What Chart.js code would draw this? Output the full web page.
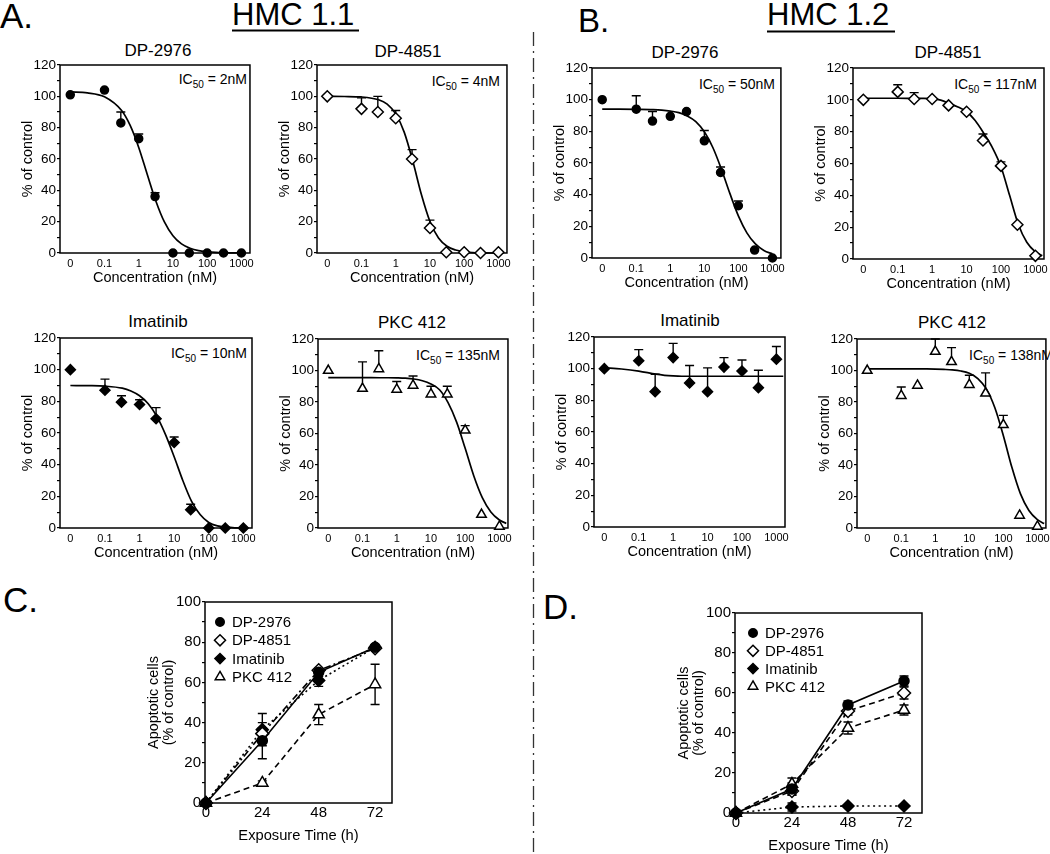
<!DOCTYPE html>
<html>
<head>
<meta charset="utf-8">
<script src="https://cdn.jsdelivr.net/npm/chart.js@4.4.0/dist/chart.umd.min.js"></script>
<style>
  html, body { margin: 0; padding: 0; background: #fff; }
  #page { position: relative; width: 1050px; height: 854px; overflow: hidden; }
  #page canvas { position: absolute; }
  #page svg { position: absolute; left: 0; top: 0; }
</style>
</head>
<body>
<div id="page">
<svg width="1050" height="854" font-family="Liberation Sans, Arial, sans-serif" fill="#000">
  <text x="0" y="28" font-size="35">A.</text>
  <text x="232" y="25" font-size="31">HMC 1.1</text>
  <line x1="232" y1="30.5" x2="359" y2="30.5" stroke="#000" stroke-width="2"/>
  <text x="578" y="32" font-size="33">B.</text>
  <text x="767" y="25" font-size="31">HMC 1.2</text>
  <line x1="767" y1="31.5" x2="895" y2="31.5" stroke="#000" stroke-width="2"/>
  <text x="3" y="612" font-size="35">C.</text>
  <text x="543" y="619" font-size="35">D.</text>
  <line x1="533.5" y1="32" x2="533.5" y2="854" stroke="#333" stroke-width="1.3" stroke-dasharray="14 5 2 5"/>

  <g font-size="17" text-anchor="middle">
    <text x="158" y="56">DP-2976</text>
    <text x="408" y="57">DP-4851</text>
    <text x="685" y="58">DP-2976</text>
    <text x="948" y="58">DP-4851</text>
    <text x="158" y="327">Imatinib</text>
    <text x="412" y="328">PKC 412</text>
    <text x="690" y="326">Imatinib</text>
    <text x="952" y="328">PKC 412</text>
  </g>
  <g font-size="14" text-anchor="end">
    <text x="247" y="84">IC<tspan font-size="10" dy="4">50</tspan><tspan dy="-4"> = 2nM</tspan></text>
    <text x="500" y="86">IC<tspan font-size="10" dy="4">50</tspan><tspan dy="-4"> = 4nM</tspan></text>
    <text x="775" y="89">IC<tspan font-size="10" dy="4">50</tspan><tspan dy="-4"> = 50nM</tspan></text>
    <text x="1037" y="89">IC<tspan font-size="10" dy="4">50</tspan><tspan dy="-4"> = 117nM</tspan></text>
    <text x="247" y="358">IC<tspan font-size="10" dy="4">50</tspan><tspan dy="-4"> = 10nM</tspan></text>
    <text x="500" y="360">IC<tspan font-size="10" dy="4">50</tspan><tspan dy="-4"> = 135nM</tspan></text>
    <text x="1053" y="360">IC<tspan font-size="10" dy="4">50</tspan><tspan dy="-4"> = 138nM</tspan></text>
  </g>
</svg>
</div>
<script>
Chart.defaults.font.family = '"Liberation Sans", Arial, sans-serif';
Chart.defaults.color = '#000';

// ── Dose-response data (A = HMC 1.1, B = HMC 1.2) ──────────────
// "0" is drawn one decade left of 0.1 nM
const DOSES = [0, 0.1, 0.3, 1, 3, 10, 30, 100, 300, 1000];
const DOSE_TICKS = [0, 0.1, 1, 10, 100, 1000];
const DOSE_TICK_LABELS = ['0', '0.1', '1', '10', '100', '1000'];
const PCT_TICKS = [0, 20, 40, 60, 80, 100, 120];

const A_DP2976     = [101, 104, 83, 73, 36, 0, 0, 0, 0, 0];
const A_DP2976_SEM = [null, null, 7, 3, 2.5, null, null, null, null, null];
const A_DP4851     = [100, 92, 90, 86, 60, 16, 0.5, 0.5, 0, 0.5];
const A_DP4851_SEM = [null, 7, 10, 5, 6, 5, null, null, null, null];
const A_IMATINIB     = [100, 87, 79.5, 78, 69, 54, 11.5, 0, 0, 0];
const A_IMATINIB_SEM = [null, 7, 4, 3, 7, 3.5, 3.5, null, null, null];
const A_PKC412     = [100, 88.5, 101, 88, 90.5, 85, 85, 62, 8.5, 1];
const A_PKC412_SEM = [null, 17, 11.5, 5, 6, 5, 5, 3, null, null];

const B_DP2976     = [100, 94, 86.5, 89.5, 92.5, 74, 54, 33, 5, 0];
const B_DP2976_SEM = [null, 8.5, 6, null, null, 6.5, 3.5, 3, null, null];
const B_DP4851     = [100, 105, 100.5, 100.5, 96.5, 92.5, 74.5, 58.5, 21.5, 2];
const B_DP4851_SEM = [null, 4.5, 4, null, null, null, 4, 2.5, null, null];
const B_IMATINIB     = [100, 105, 85.5, 107, 91, 85.5, 101, 98.5, 88, 106];
const B_IMATINIB_SEM = [null, 7, 11, 9, 11, 15, 6, 7, 11, 8];
const B_PKC412     = [100, 84, 90.5, 112, 105.5, 91, 85.5, 65.5, 8, 1];
const B_PKC412_SEM = [null, 5.5, null, 8, 9, 6, 13, 6, null, null];

// fitted curves at these log10(nM) positions
const FIT_LOG = [-2, -1.5, -1, -0.5, -0.25, 0, 0.25, 0.5, 0.75, 1, 1.25, 1.5, 1.75, 2, 2.25, 2.5, 2.75, 3, 3.2];
const A_DP2976_FIT   = [102.8, 102.2, 99.7, 90.9, 81.4, 67.4, 50.1, 33.2, 19.8, 11, 5.8, 3, 1.5, 0.8, 0.4, 0.2, 0.1, 0, null];
const A_DP4851_FIT   = [100, 99.9, 99.6, 97.8, 95, 88.8, 77, 58.5, 37.3, 20.1, 9.6, 4.3, 1.9, 0.8, 0.3, 0.1, 0, 0, null];
const A_IMATINIB_FIT = [90, 89.9, 89.6, 88.3, 86.5, 83.5, 78.5, 70.5, 59, 45, 30, 17, 8.5, 3.5, 1.3, 0.5, 0.1, 0, null];
const A_PKC412_FIT   = [95.5, 95.5, 95.5, 95.4, 95.4, 95.3, 95.1, 94.6, 93.5, 91.4, 87.8, 79.6, 67.2, 50.6, 33.2, 19.3, 10.2, 5.1, 2.9];
const B_DP2976_FIT   = [94, 94, 93.9, 93.7, 93.4, 92.8, 91.8, 89.7, 86.1, 79.7, 69.8, 56.2, 40.8, 26.6, 15.9, 8.9, 4.8, 2.6, null];
const B_DP4851_FIT   = [101, 101, 101, 100.9, 100.9, 100.8, 99.8, 97.8, 95.5, 92.5, 87, 79, 70, 58, 40, 22, 10.5, 4.5, 2];
const B_IMATINIB_FIT = [100.5, 99.8, 98.5, 96.5, 95.8, 95.4, 95.2, 95.2, 95.2, 95.2, 95.2, 95.2, 95.2, 95.2, 95.2, 95.2, 95.2, 95.2, 95.2];
const B_PKC412_FIT   = [101, 101, 101, 101, 101, 100.9, 100.7, 100.4, 99.7, 98.2, 94.9, 88.3, 76.3, 58.6, 38.5, 21.8, 11.1, 5.3, 2.8];

// ── Apoptosis time course (C = HMC 1.1, D = HMC 1.2) ───────────
const HOURS = [0, 24, 48, 72];
const APOP_TICKS = [0, 20, 40, 60, 80, 100];
const DRUGS = ['DP-2976', 'DP-4851', 'Imatinib', 'PKC 412'];

const C_DP2976   = [0, 31, 65, 77.5];   const C_DP2976_SEM   = [0, 9, 2, 1];
const C_DP4851   = [0, 34.5, 66, 77];   const C_DP4851_SEM   = [0, 3, 1, 1];
const C_IMATINIB = [0, 36.5, 61, 77.5]; const C_IMATINIB_SEM = [0, 8, 3, 1];
const C_PKC412   = [0, 10, 44, 59];     const C_PKC412_SEM   = [0, 1, 5, 10];

const D_DP2976   = [0, 12, 54, 66];     const D_DP2976_SEM   = [0, 3, 2, 2.5];
const D_DP4851   = [0, 11, 51, 60];     const D_DP4851_SEM   = [0, 2, 2, 3];
const D_IMATINIB = [0, 3, 3.5, 3.5];    const D_IMATINIB_SEM = [0, 2, 0.5, 0.5];
const D_PKC412   = [0, 14.5, 42.5, 51.5]; const D_PKC412_SEM = [0, 3, 3, 2.5];

// marker looks, one per drug
const MARK = {
  circle:   { style: 'circle',   r: 4,   fill: '#000' },
  diamondO: { style: 'rectRot',  r: 5.5, fill: '#fff' },
  diamondF: { style: 'rectRot',  r: 5,   fill: '#000' },
  triangle: { style: 'triangle', r: 5.5, fill: '#fff' }
};

const PAD_T = 12, PAD_R = 8;
const logPos = d => d === 0 ? -2 : Math.log10(d);
const tenSteps = max => s => { s.ticks = []; for (let v = 0; v <= max; v += 10) s.ticks.push({ value: v }); };

// ── Plugins ───────────────────────────────────────────────
const frame = {
  id: 'frame',
  beforeDatasetsDraw(chart) {
    const { ctx, chartArea: a } = chart;
    ctx.save();
    ctx.strokeStyle = '#000';
    ctx.lineWidth = 1.5;
    ctx.strokeRect(a.left, a.top, a.width, a.height);
    ctx.restore();
  }
};

const errorBars = {
  id: 'errorBars',
  beforeDatasetsDraw(chart) {
    const { ctx, scales: { y } } = chart;
    ctx.save();
    ctx.strokeStyle = '#000';
    ctx.lineWidth = 1.4;
    chart.data.datasets.forEach((ds, di) => {
      if (!ds.errors) return;
      chart.getDatasetMeta(di).data.forEach((pt, i) => {
        const e = ds.errors[i];
        if (!e) return;
        const v = ds.data[i].y;
        const top = y.getPixelForValue(v + e);
        const bot = ds.errorBoth ? y.getPixelForValue(v - e) : pt.y;
        ctx.beginPath();
        ctx.moveTo(pt.x, bot); ctx.lineTo(pt.x, top);
        ctx.moveTo(pt.x - 4.5, top); ctx.lineTo(pt.x + 4.5, top);
        if (ds.errorBoth) { ctx.moveTo(pt.x - 4.5, bot); ctx.lineTo(pt.x + 4.5, bot); }
        ctx.stroke();
      });
    });
    ctx.restore();
  }
};

function marker(ctx, style, x, y, r) {
  ctx.beginPath();
  if (style === 'circle') {
    ctx.arc(x, y, r, 0, Math.PI * 2);
  } else if (style === 'rectRot') {
    ctx.moveTo(x, y - r); ctx.lineTo(x + r, y); ctx.lineTo(x, y + r); ctx.lineTo(x - r, y);
  } else {
    const h = r * Math.sqrt(3) / 2;
    ctx.moveTo(x, y - r); ctx.lineTo(x + h, y + r / 2); ctx.lineTo(x - h, y + r / 2);
  }
  ctx.closePath();
  ctx.fill();
  ctx.stroke();
}

const insideLegend = {
  id: 'insideLegend',
  afterDatasetsDraw(chart, args, opts) {
    const { ctx, chartArea: a } = chart;
    ctx.save();
    ctx.font = '15px "Liberation Sans", Arial, sans-serif';
    ctx.textBaseline = 'middle';
    ctx.lineWidth = 1.5;
    ctx.strokeStyle = '#000';
    chart.data.datasets.forEach((ds, i) => {
      const x = a.left + opts.x, y = a.top + opts.y + i * opts.dy;
      ctx.fillStyle = ds.pointBackgroundColor;
      marker(ctx, ds.pointStyle, x, y, ds.pointRadius * 0.85);
      ctx.fillStyle = '#000';
      ctx.fillText(ds.label, x + opts.gap, y + 1);
    });
    ctx.restore();
  }
};

function place(id, area, yw, xh) {
  const c = document.createElement('canvas');
  c.id = id;
  const left = area[0] - yw, top = area[2] - PAD_T;
  const w = area[1] - left + PAD_R, h = area[3] + xh - top;
  c.width = w; c.height = h;
  c.style.left = left + 'px'; c.style.top = top + 'px';
  c.style.width = w + 'px'; c.style.height = h + 'px';
  document.getElementById('page').appendChild(c);
  return c;
}

// ── Dose-response panel ─────────────────────────────────────
function doseChart(id, area, mean, sem, fit, mk) {
  const cv = place(id, area, 50, 34);
  return new Chart(cv, {
    type: 'scatter',
    data: {
      datasets: [
        {
          label: 'data',
          data: mean.map((v, i) => ({ x: logPos(DOSES[i]), y: v })),
          errors: sem,
          pointStyle: mk.style, pointRadius: mk.r,
          pointBackgroundColor: mk.fill, pointBorderColor: '#000', pointBorderWidth: 1.5,
          clip: false
        },
        {
          label: 'fit',
          data: FIT_LOG.map((x, i) => ({ x, y: fit[i] })),
          showLine: true, pointRadius: 0,
          borderColor: '#000', borderWidth: 1.7,
          cubicInterpolationMode: 'monotone',
          clip: false
        }
      ]
    },
    options: {
      responsive: false, animation: false, devicePixelRatio: 1,
      layout: { padding: { top: PAD_T, right: PAD_R, left: 0, bottom: 0 } },
      plugins: { legend: { display: false }, tooltip: { enabled: false } },
      scales: {
        x: {
          type: 'linear', min: -2.3, max: 3.25,
          afterBuildTicks: s => { s.ticks = DOSE_TICKS.map(d => ({ value: logPos(d) })); },
          afterFit: s => { s.height = 34; },
          grid: { display: false, drawTicks: false },
          border: { display: false },
          ticks: { callback: (v, i) => DOSE_TICK_LABELS[i], padding: 4, font: { size: 11 }, maxRotation: 0, autoSkip: false },
          title: { display: true, text: 'Concentration (nM)', font: { size: 14.5 }, padding: { top: 0, bottom: 0 } }
        },
        y: {
          min: 0, max: 120,
          afterBuildTicks: tenSteps(120),
          afterFit: s => { s.width = 50; },
          grid: { drawOnChartArea: false, tickLength: 3, color: '#000', lineWidth: 1.2 },
          border: { display: false },
          ticks: { callback: v => PCT_TICKS.includes(v) ? String(v) : '', padding: 1, font: { size: 13.5 }, autoSkip: false },
          title: { display: true, text: '% of control', font: { size: 14.5 }, padding: { top: 9, bottom: 0 } }
        }
      }
    },
    plugins: [frame, errorBars]
  });
}

// ── Time course panel ───────────────────────────────────────
function timeChart(id, area, xMax, series, legend) {
  const cv = place(id, area, 60, 45);
  return new Chart(cv, {
    type: 'scatter',
    data: {
      datasets: series.map(s => ({
        label: s.label,
        data: s.values.map((v, i) => ({ x: HOURS[i], y: v })),
        errors: s.sem, errorBoth: true,
        showLine: true, borderColor: '#000', borderWidth: 1.6, borderDash: s.dash,
        pointStyle: s.mk.style, pointRadius: s.mk.r + 1,
        pointBackgroundColor: s.mk.fill, pointBorderColor: '#000', pointBorderWidth: 1.5,
        clip: false
      }))
    },
    options: {
      responsive: false, animation: false, devicePixelRatio: 1,
      layout: { padding: { top: PAD_T, right: PAD_R, left: 0, bottom: 0 } },
      plugins: { legend: { display: false }, tooltip: { enabled: false }, insideLegend: legend },
      scales: {
        x: {
          type: 'linear', min: -0.4, max: xMax,
          afterBuildTicks: s => { s.ticks = HOURS.map(h => ({ value: h })); },
          afterFit: s => { s.height = 45; },
          grid: { display: false, drawTicks: false },
          border: { display: false },
          ticks: { padding: 1, font: { size: 15 }, maxRotation: 0, autoSkip: false },
          title: { display: true, text: 'Exposure Time (h)', font: { size: 14.7 }, padding: { top: 0, bottom: 3 } }
        },
        y: {
          min: 0, max: 100,
          afterBuildTicks: tenSteps(100),
          afterFit: s => { s.width = 60; },
          grid: { drawOnChartArea: false, tickLength: 3, color: '#000', lineWidth: 1.2 },
          border: { display: false },
          ticks: { callback: v => APOP_TICKS.includes(v) ? String(v) : '', padding: 1, font: { size: 15 }, autoSkip: false },
          title: { display: true, text: ['Apoptotic cells', '(% of control)'], font: { size: 14.4, lineHeight: 1 }, padding: { top: 2, bottom: 0 } }
        }
      }
    },
    plugins: [frame, errorBars, insideLegend]
  });
}

// ── Build the figure ──────────────────────────────────────
doseChart('a1', [60, 250, 65, 253],  A_DP2976,   A_DP2976_SEM,   A_DP2976_FIT,   MARK.circle);
doseChart('a2', [317, 507, 65, 253], A_DP4851,   A_DP4851_SEM,   A_DP4851_FIT,   MARK.diamondO);
doseChart('a3', [60, 252, 338, 528], A_IMATINIB, A_IMATINIB_SEM, A_IMATINIB_FIT, MARK.diamondF);
doseChart('a4', [318, 508, 339, 528], A_PKC412,  A_PKC412_SEM,   A_PKC412_FIT,   MARK.triangle);

doseChart('b1', [592, 781, 68, 258],  B_DP2976,   B_DP2976_SEM,   B_DP2976_FIT,   MARK.circle);
doseChart('b2', [853, 1044, 68, 259], B_DP4851,   B_DP4851_SEM,   B_DP4851_FIT,   MARK.diamondO);
doseChart('b3', [594, 785, 337, 527], B_IMATINIB, B_IMATINIB_SEM, B_IMATINIB_FIT, MARK.diamondF);
doseChart('b4', [857, 1046, 339, 528], B_PKC412,  B_PKC412_SEM,   B_PKC412_FIT,   MARK.triangle);

timeChart('c', [205, 392, 602, 803], 79.2, [
  { label: DRUGS[0], values: C_DP2976,   sem: C_DP2976_SEM,   mk: MARK.circle,   dash: [] },
  { label: DRUGS[1], values: C_DP4851,   sem: C_DP4851_SEM,   mk: MARK.diamondO, dash: [7, 3, 2, 3] },
  { label: DRUGS[2], values: C_IMATINIB, sem: C_IMATINIB_SEM, mk: MARK.diamondF, dash: [2, 3] },
  { label: DRUGS[3], values: C_PKC412,   sem: C_PKC412_SEM,   mk: MARK.triangle, dash: [6, 4] }
], { x: 15, y: 20, dy: 18.3, gap: 12 });

timeChart('d', [735, 922, 613, 813], 79.7, [
  { label: DRUGS[0], values: D_DP2976,   sem: D_DP2976_SEM,   mk: MARK.circle,   dash: [] },
  { label: DRUGS[1], values: D_DP4851,   sem: D_DP4851_SEM,   mk: MARK.diamondO, dash: [6, 4] },
  { label: DRUGS[2], values: D_IMATINIB, sem: D_IMATINIB_SEM, mk: MARK.diamondF, dash: [2, 3.5] },
  { label: DRUGS[3], values: D_PKC412,   sem: D_PKC412_SEM,   mk: MARK.triangle, dash: [6, 4] }
], { x: 18, y: 20, dy: 17.8, gap: 12 });
</script>
</body>
</html>
